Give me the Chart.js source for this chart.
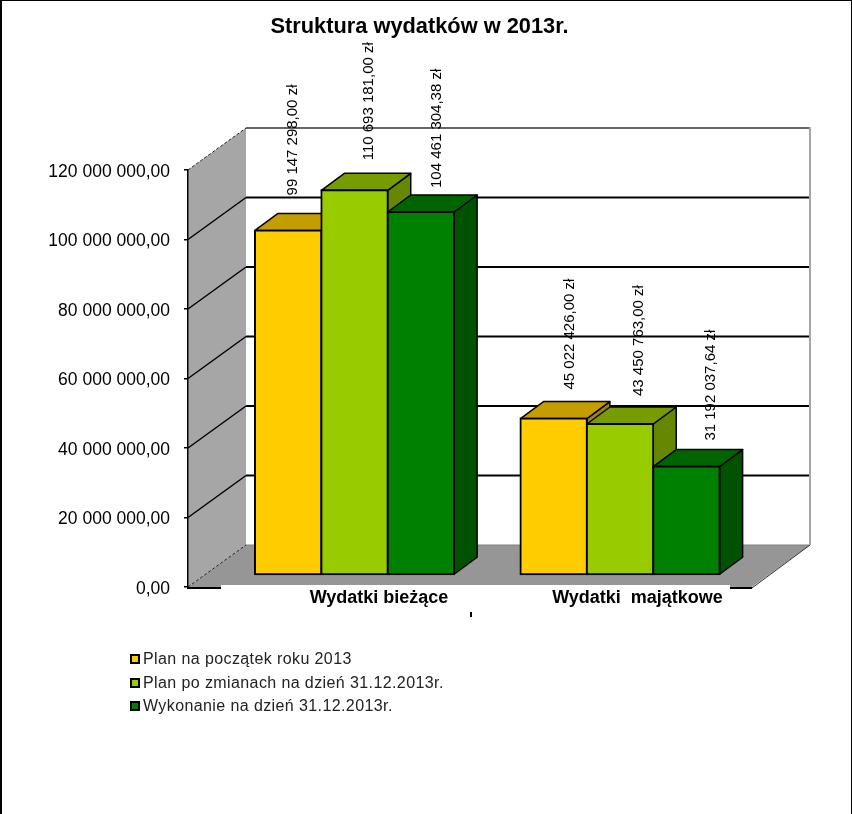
<!DOCTYPE html>
<html lang="pl">
<head>
  <meta charset="UTF-8" />
  <title>Struktura wydatków w 2013r.</title>
  <script src="https://cdn.jsdelivr.net/npm/chart.js"></script>
  <style>
    html, body { margin: 0; padding: 0; background: #fff; }
    #wrap { position: relative; width: 852px; height: 814px; overflow: hidden; }
    canvas { display: block; }
  </style>
</head>
<body>
<div id="wrap"><canvas id="chart" width="852" height="814"></canvas></div>
<script>
  const chartTitle = 'Struktura wydatków w 2013r.';
  const categories = ['Wydatki bieżące', 'Wydatki  majątkowe'];
  const seriesNames = ['Plan na początek roku 2013', 'Plan po zmianach na dzień 31.12.2013r.', 'Wykonanie na dzień 31.12.2013r.'];
  const planStart = [99147298.00, 45022426.00];
  const planChanged = [110693181.00, 43450763.00];
  const executed = [104461304.38, 31192037.64];
  const yTicks = [0, 20000000, 40000000, 60000000, 80000000, 100000000, 120000000];

  // kolory: przód, góra, bok
  const frontColors = ['#FFCC00', '#99CC00', '#008000'];
  const topColors = ['#C49E00', '#769C00', '#006400'];
  const sideColors = ['#A58500', '#668800', '#005200'];

  const FONT = '"Liberation Sans", Arial, sans-serif';

  // rzut 3D
  const wallDx = 58, wallDy = -42;    // głębokość ścian
  const barDx = 23, barDy = -17;      // głębokość słupka
  const frontDx = 33.8, frontDy = -12; // przesunięcie przedniej ściany słupków
  const floorRight = 752;

  // przesunięcia etykiet względem środka słupka (seria, kategoria)
  const labelNudge = [[[5, -35], [16, -29]], [[14, -30], [19, -28]], [[16, -24], [24, -26]]];

  function plMoney(v) {
    const parts = v.toFixed(2).split('.');
    return parts[0].replace(/\B(?=(\d{3})+$)/g, ' ') + ',' + parts[1];
  }

  function poly(ctx, pts, fill, stroke, lw) {
    ctx.beginPath();
    pts.forEach((p, i) => i ? ctx.lineTo(p[0], p[1]) : ctx.moveTo(p[0], p[1]));
    ctx.closePath();
    if (fill) { ctx.fillStyle = fill; ctx.fill(); }
    if (stroke) { ctx.strokeStyle = stroke; ctx.lineWidth = lw || 1; ctx.lineJoin = 'round'; ctx.stroke(); }
  }

  function line(ctx, x1, y1, x2, y2, color, lw, dash) {
    ctx.beginPath();
    ctx.setLineDash(dash || []);
    ctx.moveTo(x1, y1);
    ctx.lineTo(x2, y2);
    ctx.strokeStyle = color;
    ctx.lineWidth = lw;
    ctx.stroke();
    ctx.setLineDash([]);
  }

  const box3d = {
    id: 'box3d',
    // ściany i podłoga pod osiami
    beforeDraw(chart) {
      const ctx = chart.ctx, y = chart.scales.y, a = chart.chartArea;
      const y0 = y.getPixelForValue(0), yTop = y.getPixelForValue(yTicks[yTicks.length - 1]);
      const backL = a.left + wallDx, backR = floorRight + wallDx;
      ctx.save();
      ctx.fillStyle = '#fff';
      ctx.fillRect(0, 0, chart.width, chart.height);

      // podłoga
      poly(ctx, [[a.left, y0], [backL, y0 + wallDy], [backR, y0 + wallDy], [floorRight, y0]], '#969696');
      line(ctx, backL, y0 + wallDy, backR, y0 + wallDy, '#808080', 1);
      line(ctx, a.left - 1, y0 + 1, floorRight, y0 + 1, '#000', 2);
      line(ctx, floorRight, y0 + 1, backR, y0 + wallDy, '#333', 1);
      // biała łata przy dolnej krawędzi podłogi, jak w oryginale
      ctx.fillStyle = '#fff';
      ctx.fillRect(221, y0 - 2, 509, 6);

      // ściana tylna: siatka
      yTicks.forEach(t => {
        if (t === 0) return;
        const py = y.getPixelForValue(t) + wallDy;
        const isTop = t === yTicks[yTicks.length - 1];
        line(ctx, backL, py, backR, py, isTop ? '#666' : '#000', 2);
      });
      line(ctx, backR, yTop + wallDy - 1, backR, y0 + wallDy, '#A6A6A6', 2);

      // ściana lewa
      poly(ctx, [[a.left, y0], [a.left, yTop], [backL, yTop + wallDy], [backL, y0 + wallDy]], '#A6A6A6');
      yTicks.forEach(t => {
        const py = y.getPixelForValue(t);
        const dashed = t === 0 || t === yTicks[yTicks.length - 1];
        line(ctx, a.left, py, backL, py + wallDy, dashed ? '#222' : '#000', dashed ? 1 : 1.5, dashed ? [3, 2] : null);
      });
      ctx.restore();
    },
    // słupki rysowane tu, seria po serii, żeby zasłaniały się jak w oryginale
    beforeDatasetDraw() {
      return false;
    },
    afterDatasetsDraw(chart) {
      const ctx = chart.ctx;
      ctx.save();
      ctx.translate(frontDx, frontDy);
      chart.data.datasets.forEach((ds, s) => {
        chart.getDatasetMeta(s).data.forEach(bar => {
          const p = bar.getProps(['x', 'y', 'base', 'width'], true);
          const l = p.x - p.width / 2, r = p.x + p.width / 2;
          poly(ctx, [[r, p.y], [r + barDx, p.y + barDy], [r + barDx, p.base + barDy], [r, p.base]], sideColors[s], '#000', 1.5);
          poly(ctx, [[l, p.y], [l + barDx, p.y + barDy], [r + barDx, p.y + barDy], [r, p.y]], topColors[s], '#000', 1.5);
          bar.draw(ctx);
        });
      });
      ctx.restore();
    },
    afterDraw(chart) {
      const ctx = chart.ctx;
      ctx.save();
      ctx.textBaseline = 'middle';
      ctx.fillStyle = '#000';

      // tytuł
      ctx.font = 'bold 21.8px ' + FONT;
      ctx.textAlign = 'center';
      ctx.fillText(chartTitle, 419.5, 27);

      // etykiety kategorii
      ctx.font = 'bold 18px ' + FONT;
      ctx.fillText(categories[0], 379, 598);
      ctx.fillText(categories[1], 637.5, 598);
      line(ctx, 471, 612, 471, 617, '#000', 2);

      // etykiety wartości, pionowo
      ctx.font = '15px ' + FONT;
      ctx.textAlign = 'left';
      chart.data.datasets.forEach((ds, s) => {
        chart.getDatasetMeta(s).data.forEach((bar, c) => {
          const p = bar.getProps(['x', 'y'], true);
          const n = labelNudge[s][c];
          ctx.save();
          ctx.translate(p.x + frontDx + n[0], p.y + frontDy + n[1]);
          ctx.rotate(-Math.PI / 2);
          ctx.fillText(plMoney(ds.data[c]) + ' zł', 0, 0);
          ctx.restore();
        });
      });

      // legenda
      ctx.font = '16px ' + FONT;
      ctx.letterSpacing = '0.4px';
      seriesNames.forEach((name, s) => {
        const ly = 659 + s * 23.5;
        const top = Math.round(ly - 5);
        ctx.fillStyle = frontColors[s];
        ctx.fillRect(130, top, 10, 10);
        ctx.strokeStyle = '#000';
        ctx.lineWidth = 2;
        ctx.strokeRect(131, top + 1, 8, 8);
        ctx.fillStyle = '#222';
        ctx.fillText(name, 143, ly + 1);
      });
      ctx.letterSpacing = '0px';

      // ramka obrazka
      ctx.fillStyle = '#000';
      ctx.fillRect(0, 0, 2, chart.height);
      ctx.fillRect(0, 0, chart.width, 1);
      ctx.fillRect(chart.width - 1, 0, 1, chart.height);
      ctx.restore();
    }
  };

  new Chart(document.getElementById('chart'), {
    type: 'bar',
    data: {
      labels: categories,
      datasets: [
        { label: seriesNames[0], data: planStart, backgroundColor: frontColors[0] },
        { label: seriesNames[1], data: planChanged, backgroundColor: frontColors[1] },
        { label: seriesNames[2], data: executed, backgroundColor: frontColors[2] }
      ]
    },
    options: {
      responsive: false,
      animation: false,
      categoryPercentage: 0.75,
      barPercentage: 1,
      borderColor: '#000',
      borderWidth: 2,
      borderSkipped: false,
      inflateAmount: 1,
      layout: { autoPadding: false, padding: { left: 0, right: 133, top: 170, bottom: 227 } },
      plugins: { legend: { display: false }, title: { display: false }, tooltip: { enabled: false } },
      scales: {
        x: {
          afterFit: s => { s.height = 0; },
          grid: { display: false },
          border: { display: false },
          ticks: { display: false }
        },
        y: {
          min: 0,
          max: 120000000,
          afterFit: s => { s.width = 188; },
          afterBuildTicks: s => { s.ticks = yTicks.map(v => ({ value: v })); },
          grid: { drawOnChartArea: false, drawTicks: true, tickLength: 4, color: '#000', lineWidth: 1.5 },
          border: { display: true, color: '#000', width: 1.5 },
          ticks: {
            padding: 14,
            labelOffset: 2,
            color: '#000',
            font: { family: FONT, size: 17.5 },
            callback: v => plMoney(v)
          }
        }
      }
    },
    plugins: [box3d]
  });
</script>
</body>
</html>
